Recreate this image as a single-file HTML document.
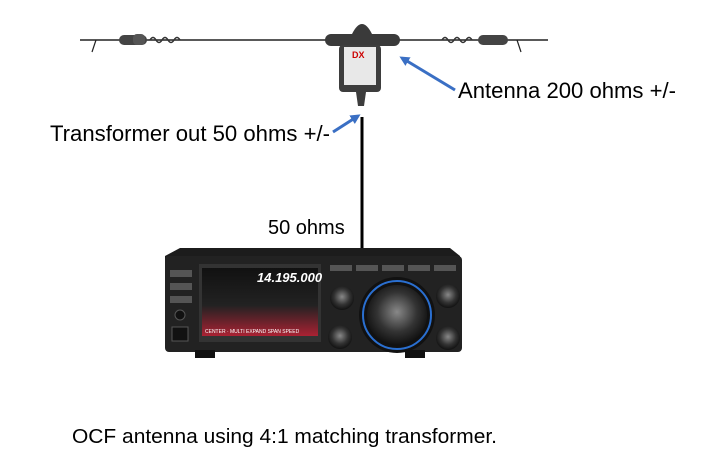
<!DOCTYPE html>
<html><head><meta charset="utf-8"><style>
body{margin:0;background:#fff;width:705px;height:465px;overflow:hidden;font-family:"Liberation Sans",sans-serif}
</style></head><body>
<svg width="705" height="465" xmlns="http://www.w3.org/2000/svg" style="position:absolute;left:0;top:0">
<defs>
<marker id="ah" markerWidth="10" markerHeight="10" refX="7" refY="5" orient="auto" markerUnits="userSpaceOnUse"><path d="M0,0 L10,5 L0,10 z" fill="#3a6fc4"/></marker>
<radialGradient id="kn" cx="50%" cy="45%" r="55%"><stop offset="0" stop-color="#888"/><stop offset="0.6" stop-color="#333"/><stop offset="1" stop-color="#111"/></radialGradient>
<linearGradient id="scr" x1="0" y1="0" x2="0" y2="1"><stop offset="0" stop-color="#111"/><stop offset="0.55" stop-color="#222"/><stop offset="1" stop-color="#a23"/></linearGradient>
</defs>
<line x1="80" y1="40" x2="548" y2="40" stroke="#222" stroke-width="1.5"/>
<path d="M96,40 l-4,12 M517,40 l4,12" stroke="#222" stroke-width="1.2"/>
<rect x="119" y="35" width="28" height="10" rx="5" fill="#444"/>
<rect x="133" y="34" width="12" height="11" rx="4" fill="#555"/>
<path d="M150,40 q3,-5 6,0 q3,5 6,0 q3,-5 6,0 q3,5 6,0 q3,-5 6,0" stroke="#333" fill="none" stroke-width="1.5"/>
<rect x="478" y="35" width="30" height="10" rx="5" fill="#444"/>
<path d="M442,40 q3,-5 6,0 q3,5 6,0 q3,-5 6,0 q3,5 6,0 q3,-5 6,0" stroke="#333" fill="none" stroke-width="1.5"/>
<rect x="325" y="34" width="75" height="12" rx="6" fill="#3a3a3a"/>
<path d="M352,34 q10,-20 20,0 z" fill="#3a3a3a"/>
<rect x="339" y="45" width="42" height="47" rx="4" fill="#3d3d3d"/>
<rect x="344" y="47" width="32" height="38" fill="#e8e8e8"/>
<text x="352" y="58" font-size="9" font-weight="bold" fill="#c00">DX</text>
<path d="M356,92 h10 l-2,14 h-6 z" fill="#3d3d3d"/>
<line x1="362" y1="117" x2="362" y2="250" stroke="#000" stroke-width="3"/>
<line x1="455" y1="90" x2="402" y2="58" stroke="#3a6fc4" stroke-width="3" marker-end="url(#ah)"/>
<line x1="333" y1="132" x2="358" y2="116" stroke="#3a6fc4" stroke-width="3" marker-end="url(#ah)"/>
<text x="458" y="98" font-size="22" fill="#000" textLength="218" lengthAdjust="spacingAndGlyphs">Antenna 200 ohms +/-</text>
<text x="50" y="141" font-size="22" fill="#000" textLength="280" lengthAdjust="spacingAndGlyphs">Transformer out 50 ohms +/-</text>
<text x="268" y="234" font-size="20" fill="#000">50 ohms</text>
<text x="72" y="443" font-size="20" fill="#000" textLength="425" lengthAdjust="spacingAndGlyphs">OCF antenna using 4:1 matching transformer.</text>
<path d="M180,248 h270 l10,8 v92 h-295 v-92 z" fill="#1c1c1c"/>
<rect x="165" y="256" width="297" height="96" rx="4" fill="#222"/>
<rect x="199" y="264" width="122" height="78" fill="#333"/>
<rect x="202" y="268" width="116" height="68" fill="url(#scr)"/>
<text x="257" y="282" font-size="13" font-weight="bold" fill="#fff" font-style="italic">14.195.000</text>
<text x="205" y="333" font-size="5" fill="#fff">CENTER    ·    MULTI   EXPAND   SPAN   SPEED</text>
<rect x="170" y="270" width="22" height="7" fill="#555"/>
<rect x="170" y="283" width="22" height="7" fill="#555"/>
<rect x="170" y="296" width="22" height="7" fill="#555"/>
<circle cx="180" cy="315" r="5" fill="#111" stroke="#555"/>
<rect x="172" y="327" width="16" height="14" fill="#111" stroke="#555"/>
<g fill="#555"><rect x="330" y="265" width="22" height="6"/><rect x="356" y="265" width="22" height="6"/><rect x="382" y="265" width="22" height="6"/><rect x="408" y="265" width="22" height="6"/><rect x="434" y="265" width="22" height="6"/></g>
<circle cx="397" cy="315" r="38" fill="#111"/>
<circle cx="397" cy="315" r="34" fill="none" stroke="#2a6fd0" stroke-width="2"/>
<circle cx="397" cy="315" r="30" fill="url(#kn)"/>
<circle cx="342" cy="298" r="12" fill="url(#kn)"/>
<circle cx="340" cy="337" r="12" fill="url(#kn)"/>
<circle cx="448" cy="296" r="12" fill="url(#kn)"/>
<circle cx="448" cy="338" r="12" fill="url(#kn)"/>
<rect x="195" y="350" width="20" height="8" fill="#111"/>
<rect x="405" y="350" width="20" height="8" fill="#111"/>
</svg>
</body></html>
